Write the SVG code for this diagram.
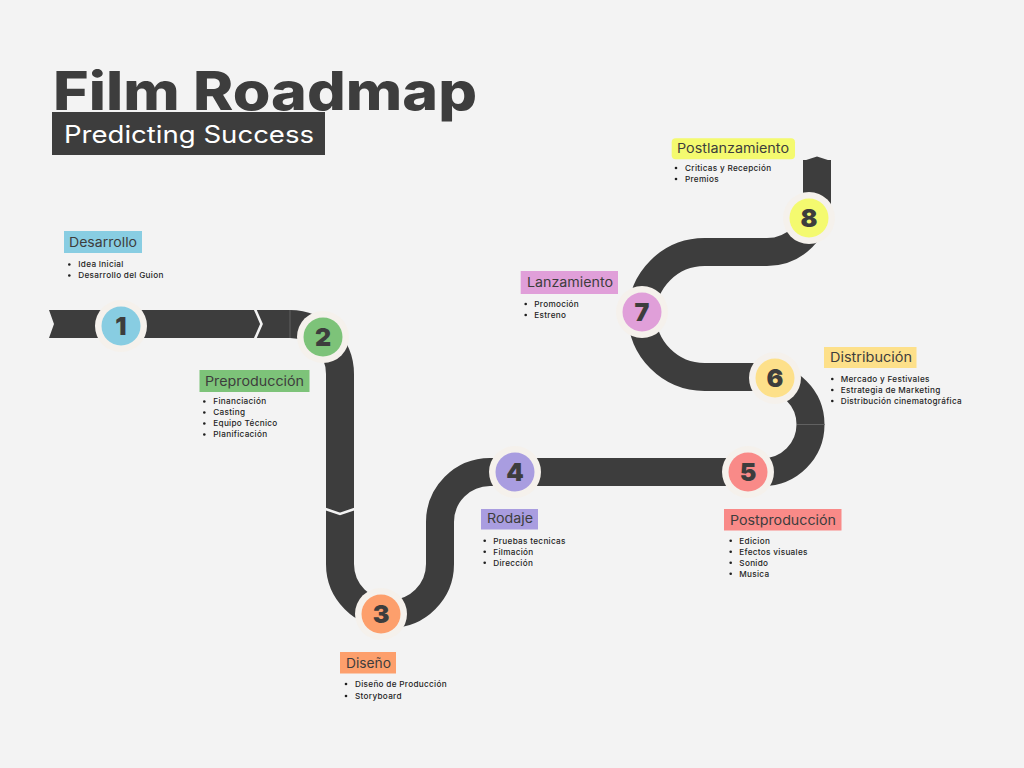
<svg xmlns="http://www.w3.org/2000/svg" width="1024" height="768" viewBox="0 0 1024 768">
  <style>
    .road { fill: none; stroke: #3d3d3d; stroke-width: 28; }
    .roadfill { fill: #3d3d3d; }
    .gap { fill: none; stroke: #f3f3f3; stroke-width: 2.6; }
    .seam { stroke: #6b6b6b; stroke-width: 0.8; }
    .ring { fill: #f5f1ec; }
    .num { font-family: Inter, "Open Sans", sans-serif; font-weight: 900; font-size: 25px; fill: #3d3d3d; text-anchor: middle; }
    .label { font-family: Inter, "Open Sans", sans-serif; font-size: 13px; fill: #3d3d3d; }
    .item { font-family: Inter, "Open Sans", sans-serif; font-weight: 500; font-size: 8.2px; letter-spacing: 0.3px; fill: #1e1e1e; }
    .dot { fill: #1e1e1e; }
  </style>
  <rect width="1024" height="768" fill="#f3f3f3"/>

  <!-- Title block -->
  <g id="title">
    <text x="53" y="110" font-family="Inter, 'Open Sans', sans-serif" font-weight="800" font-size="53" fill="#3d3d3d" textLength="424" lengthAdjust="spacingAndGlyphs">Film Roadmap</text>
    <rect x="52" y="112" width="273" height="43" fill="#3d3d3d"/>
    <text x="64" y="143" font-family="Inter, 'Open Sans', sans-serif" font-size="24" fill="#ffffff" textLength="250" lengthAdjust="spacingAndGlyphs">Predicting Success</text>
  </g>

  <!-- Road -->
  <g id="connectors">
    <path class="road" d="M 58 324 H 290 A 50 50 0 0 1 340 374 V 564 A 50 50 0 0 0 440 564 V 522 A 50 50 0 0 1 490 472 H 763 A 47.5 47.5 0 0 0 763 377 H 704.5 A 62.5 62.5 0 0 1 704.5 252 H 767 A 50 50 0 0 0 817 202 V 160"/>
    <!-- notched tail at the start -->
    <polygon class="roadfill" points="49,310 59,310 59,338 49,338 54,324"/>
    <!-- pointed tip at the end -->
    <polygon class="roadfill" points="803,161 817,156.5 831,161 831,163 803,163"/>
    <!-- chevron breaks -->
    <polyline class="gap" points="254.5,308 261.5,324 254.5,340"/>
    <polyline class="gap" points="324,508.5 340,514 356,508.5"/>
    <!-- segment seams -->
    <line class="seam" x1="290" y1="310" x2="290" y2="338"/>
    <line class="seam" x1="797" y1="424.5" x2="825" y2="424.5"/>
  </g>

  <!-- Stage 1 -->
  <g id="node1">
    <circle class="ring" cx="121" cy="326" r="26"/>
    <circle cx="121" cy="326" r="19.5" fill="#88cde2"/>
    <text class="num" x="121" y="335">1</text>
    <rect x="64" y="231" width="78" height="22" fill="#88cde2"/>
    <text class="label" x="69" y="247" textLength="68" lengthAdjust="spacingAndGlyphs">Desarrollo</text>
    <circle class="dot" cx="69.3" cy="264.5" r="1.3"/>
    <text class="item" x="78.3" y="267.3">Idea Inicial</text>
    <circle class="dot" cx="69.3" cy="275.5" r="1.3"/>
    <text class="item" x="78.3" y="278.3">Desarrollo del Guion</text>
  </g>

  <!-- Stage 2 -->
  <g id="node2">
    <circle class="ring" cx="323" cy="337" r="26"/>
    <circle cx="323" cy="337" r="19.5" fill="#7dc379"/>
    <text class="num" x="323" y="346">2</text>
    <rect x="199.5" y="370" width="110" height="22" fill="#7dc379"/>
    <text class="label" x="205" y="385.5" textLength="99" lengthAdjust="spacingAndGlyphs">Preproducción</text>
    <circle class="dot" cx="204.3" cy="401.5" r="1.3"/>
    <text class="item" x="213.3" y="404.3">Financiación</text>
    <circle class="dot" cx="204.3" cy="412.5" r="1.3"/>
    <text class="item" x="213.3" y="415.3">Casting</text>
    <circle class="dot" cx="204.3" cy="423.5" r="1.3"/>
    <text class="item" x="213.3" y="426.3">Equipo Técnico</text>
    <circle class="dot" cx="204.3" cy="434.5" r="1.3"/>
    <text class="item" x="213.3" y="437.3">Planificación</text>
  </g>

  <!-- Stage 3 -->
  <g id="node3">
    <circle class="ring" cx="381" cy="614" r="26"/>
    <circle cx="381" cy="614" r="19.5" fill="#fd9f6c"/>
    <text class="num" x="381" y="623">3</text>
    <rect x="340" y="652" width="56" height="21.5" fill="#fd9f6c"/>
    <text class="label" x="346" y="668" textLength="45" lengthAdjust="spacingAndGlyphs">Diseño</text>
    <circle class="dot" cx="346" cy="684" r="1.3"/>
    <text class="item" x="355" y="686.8">Diseño de Producción</text>
    <circle class="dot" cx="346" cy="696" r="1.3"/>
    <text class="item" x="355" y="698.8">Storyboard</text>
  </g>

  <!-- Stage 4 -->
  <g id="node4">
    <circle class="ring" cx="515" cy="472" r="26"/>
    <circle cx="515" cy="472" r="19.5" fill="#a99de0"/>
    <text class="num" x="515" y="481">4</text>
    <rect x="481" y="509" width="57" height="20.5" fill="#a99de0"/>
    <text class="label" x="487" y="523.3" textLength="46" lengthAdjust="spacingAndGlyphs">Rodaje</text>
    <circle class="dot" cx="484.7" cy="540.8" r="1.3"/>
    <text class="item" x="493.3" y="543.6">Pruebas tecnicas</text>
    <circle class="dot" cx="484.7" cy="551.8" r="1.3"/>
    <text class="item" x="493.3" y="554.6">Filmación</text>
    <circle class="dot" cx="484.7" cy="562.8" r="1.3"/>
    <text class="item" x="493.3" y="565.6">Dirección</text>
  </g>

  <!-- Stage 5 -->
  <g id="node5">
    <circle class="ring" cx="748" cy="472" r="26"/>
    <circle cx="748" cy="472" r="19.5" fill="#f98a88"/>
    <text class="num" x="748" y="481">5</text>
    <rect x="724" y="509" width="117.5" height="21.5" fill="#f98a88"/>
    <text class="label" x="730" y="525" textLength="106" lengthAdjust="spacingAndGlyphs">Postproducción</text>
    <circle class="dot" cx="730.7" cy="540.8" r="1.3"/>
    <text class="item" x="739.3" y="543.6">Edicion</text>
    <circle class="dot" cx="730.7" cy="551.8" r="1.3"/>
    <text class="item" x="739.3" y="554.6">Efectos visuales</text>
    <circle class="dot" cx="730.7" cy="562.8" r="1.3"/>
    <text class="item" x="739.3" y="565.6">Sonido</text>
    <circle class="dot" cx="730.7" cy="573.8" r="1.3"/>
    <text class="item" x="739.3" y="576.6">Musica</text>
  </g>

  <!-- Stage 6 -->
  <g id="node6">
    <circle class="ring" cx="775" cy="378" r="26"/>
    <circle cx="775" cy="378" r="19.5" fill="#fde08a"/>
    <text class="num" x="775" y="387">6</text>
    <rect x="824" y="347" width="92.5" height="21" fill="#fde08a"/>
    <text class="label" x="830" y="362" textLength="82" lengthAdjust="spacingAndGlyphs">Distribución</text>
    <circle class="dot" cx="832.3" cy="379" r="1.3"/>
    <text class="item" x="840.7" y="381.8">Mercado y Festivales</text>
    <circle class="dot" cx="832.3" cy="390" r="1.3"/>
    <text class="item" x="840.7" y="392.8">Estrategia de Marketing</text>
    <circle class="dot" cx="832.3" cy="401" r="1.3"/>
    <text class="item" x="840.7" y="403.8">Distribución cinematográfica</text>
  </g>

  <!-- Stage 7 -->
  <g id="node7">
    <circle class="ring" cx="642" cy="312" r="26"/>
    <circle cx="642" cy="312" r="19.5" fill="#e09fd9"/>
    <text class="num" x="642" y="321">7</text>
    <rect x="520.7" y="271" width="97.3" height="23" fill="#e09fd9"/>
    <text class="label" x="527" y="287" textLength="86" lengthAdjust="spacingAndGlyphs">Lanzamiento</text>
    <circle class="dot" cx="525.7" cy="304" r="1.3"/>
    <text class="item" x="534.3" y="306.8">Promoción</text>
    <circle class="dot" cx="525.7" cy="315" r="1.3"/>
    <text class="item" x="534.3" y="317.8">Estreno</text>
  </g>

  <!-- Stage 8 -->
  <g id="node8">
    <circle class="ring" cx="809" cy="218" r="26"/>
    <circle cx="809" cy="218" r="19.5" fill="#f4fa6f"/>
    <text class="num" x="809" y="227">8</text>
    <rect x="671.7" y="138.3" width="123.3" height="21" rx="4" fill="#f4fa6f"/>
    <text class="label" x="677" y="153" textLength="112" lengthAdjust="spacingAndGlyphs">Postlanzamiento</text>
    <circle class="dot" cx="676" cy="168" r="1.3"/>
    <text class="item" x="685" y="170.8">Criticas y Recepción</text>
    <circle class="dot" cx="676" cy="179" r="1.3"/>
    <text class="item" x="685" y="181.8">Premios</text>
  </g>
</svg>
